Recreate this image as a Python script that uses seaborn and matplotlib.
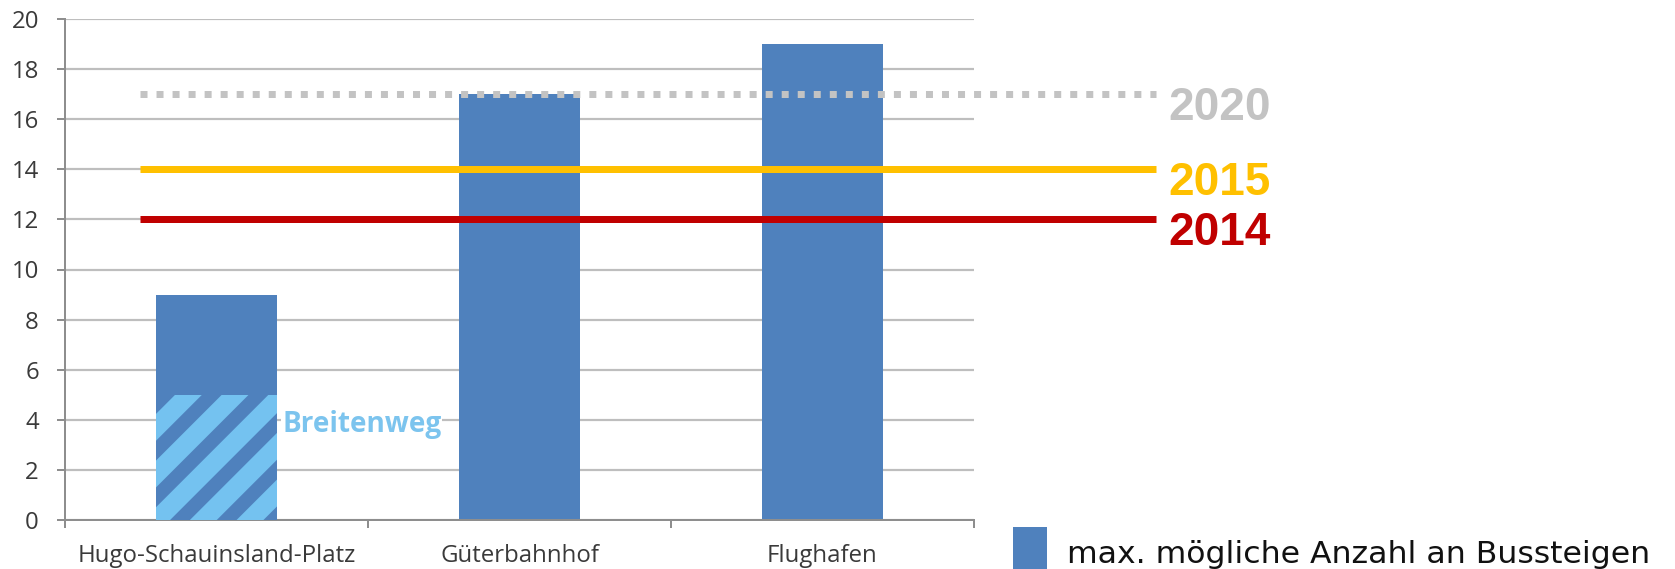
import matplotlib
matplotlib.use("Agg")
import matplotlib.pyplot as plt
from matplotlib.patches import Rectangle
import seaborn as sns

# ---- data ----
stations = ["Hugo-Schauinsland-Platz", "Güterbahnhof", "Flughafen"]
bus_bays = [9, 17, 19]                 # max. possible number of bus bays
breitenweg_bays = 5                    # share of Hugo-Schauinsland-Platz at Breitenweg
target_years = ["2020", "2015", "2014"]
target_bays = [17, 14, 12]
y_ticks = list(range(0, 21, 2))
legend_label = "max. mögliche Anzahl an Bussteigen"

# ---- styling ----
DPI = 140
W, H = 1675, 569


def pt(px):
    """Convert a pixel size into points at the figure resolution."""
    return px * 72.0 / DPI


BAR_BLUE = "#4F81BD"
LIGHT_BLUE = "#74C2F0"
GRID_GRAY = "#BEBEBE"
AXIS_GRAY = "#8E8E8E"
LABEL_GRAY = "#3A3A3A"
target_colors = {"2020": "#C3C3C3", "2015": "#FFC000", "2014": "#C00000"}

sns.set_theme(style="white")
plt.rcParams["font.family"] = ["Open Sans", "DejaVu Sans"]
plt.rcParams["hatch.linewidth"] = pt(14)

fig = plt.figure(figsize=(W / DPI, H / DPI), dpi=DPI)
fig.patch.set_facecolor("white")
ax = fig.add_axes([65 / W, 1 - 520 / H, (974 - 65) / W, (520 - 19) / H])

sns.barplot(x=stations, y=bus_bays, color=BAR_BLUE, saturation=1,
            width=0.4, ax=ax, zorder=2, linewidth=0)

# hatched lower segment of the first bar
ax.bar(0, breitenweg_bays, width=0.4, facecolor=LIGHT_BLUE,
       edgecolor=BAR_BLUE, hatch="/", linewidth=0, zorder=3)
ax.annotate("Breitenweg", xy=(0.2, 4), xytext=(pt(5), pt(-12)),
            textcoords="offset points", ha="left", va="baseline",
            fontsize=pt(28), fontweight="bold", color="#7CC4EE",
            bbox=dict(facecolor="white", edgecolor="none", pad=0.5),
            zorder=5)

# target lines with year labels
x_start, x_end = -0.2525, 3.10
for year, val in zip(target_years, target_bays):
    style = dict(color=target_colors[year], linewidth=pt(7),
                 clip_on=False, zorder=4)
    if year == "2020":
        line = ax.hlines(val, x_start, x_end, linestyles=(0, (1.0, 1.29)),
                         **style)
        line.set_capstyle("butt")
    else:
        ax.hlines(val, x_start, x_end, **style)
    ax.annotate(year, xy=(x_end, val), xytext=(pt(13), pt(-26)),
                textcoords="offset points", ha="left", va="baseline",
                fontsize=pt(46), fontweight="bold",
                family=["Liberation Sans", "DejaVu Sans"],
                color=target_colors[year], annotation_clip=False)

# axes
ax.set_xlim(-0.5, 2.5)
ax.set_ylim(0, 20)
ax.set_yticks(y_ticks)
ax.set_xticks([-0.5, 0.5, 1.5, 2.5], minor=True)
ax.yaxis.grid(True, color=GRID_GRAY, linewidth=pt(2.2))
ax.set_axisbelow(True)
ax.set_xlabel("")
ax.set_ylabel("")

for side in ("top", "right"):
    ax.spines[side].set_visible(False)
for side in ("left", "bottom"):
    ax.spines[side].set_color(AXIS_GRAY)
    ax.spines[side].set_linewidth(pt(2))

ax.tick_params(axis="y", which="major", left=True, length=pt(8),
               width=pt(2), color=AXIS_GRAY, pad=pt(18),
               labelsize=pt(24), labelcolor=LABEL_GRAY)
ax.tick_params(axis="x", which="major", bottom=True, length=0,
               pad=pt(24), labelsize=pt(24), labelcolor=LABEL_GRAY)
ax.tick_params(axis="x", which="minor", bottom=True, length=pt(8),
               width=pt(2), color=AXIS_GRAY)

# legend
fig.add_artist(Rectangle((1013 / W, 0), 34 / W, 42 / H,
                         transform=fig.transFigure, facecolor=BAR_BLUE,
                         edgecolor="none"))
fig.text(1067 / W, 1 - 563 / H, legend_label, ha="left", va="baseline",
         fontsize=pt(31.5), color="#111111", family="DejaVu Sans")

fig.savefig("out.png", dpi=DPI, facecolor="white")
